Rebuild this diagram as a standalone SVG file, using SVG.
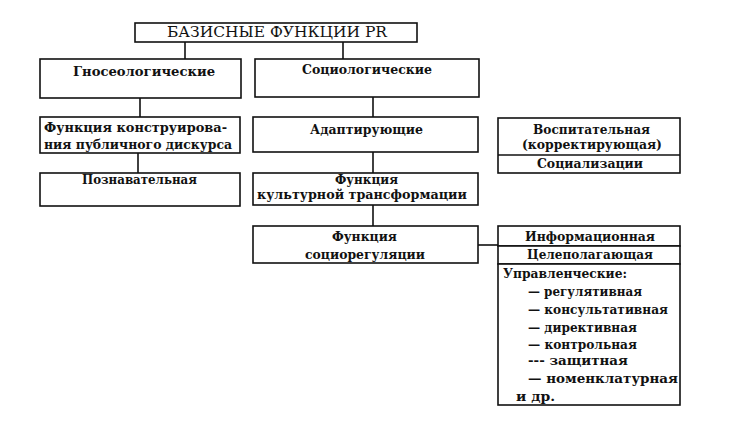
<svg xmlns="http://www.w3.org/2000/svg" width="732" height="422" viewBox="0 0 732 422">
<style>
.b{fill:#fff;stroke:#111;stroke-width:1.6}
.l{stroke:#111;stroke-width:1.6;fill:none}
text{font-family:"DejaVu Serif","Liberation Serif",serif;font-weight:bold;font-size:13.5px;fill:#111}
.t{font-weight:normal;font-size:14px}
.s{font-size:12.5px}
</style>
<rect width="732" height="422" fill="#fff"/>
<g id="connectors">
<line class="l" x1="185" y1="42" x2="185" y2="59"/>
<line class="l" x1="343" y1="42" x2="343" y2="59"/>
<line class="l" x1="140" y1="98" x2="140" y2="117"/>
<line class="l" x1="138" y1="153" x2="138" y2="173"/>
<line class="l" x1="373" y1="97" x2="373" y2="117"/>
<line class="l" x1="373" y1="152" x2="373" y2="173"/>
<line class="l" x1="373" y1="205" x2="373" y2="226"/>
<line class="l" x1="478" y1="245" x2="498" y2="245"/>
</g>
<g id="title">
<rect class="b" x="135" y="23" width="282" height="19"/>
<text class="t" x="167" y="37" textLength="220" lengthAdjust="spacingAndGlyphs">БАЗИСНЫЕ ФУНКЦИИ PR</text>
</g>
<g id="gnoseo">
<rect class="b" x="40" y="59" width="201" height="39"/>
<text x="73" y="76" textLength="142" lengthAdjust="spacingAndGlyphs">Гносеологические</text>
</g>
<g id="socio">
<rect class="b" x="255" y="59" width="224" height="38"/>
<text x="302" y="74" textLength="130" lengthAdjust="spacingAndGlyphs">Социологические</text>
</g>
<g id="konstr">
<rect class="b" x="40" y="117" width="200" height="36"/>
<text x="44" y="132" textLength="183" lengthAdjust="spacingAndGlyphs">Функция конструирова-</text>
<text x="44" y="149" textLength="188" lengthAdjust="spacingAndGlyphs">ния публичного дискурса</text>
</g>
<g id="poznav">
<rect class="b" x="40" y="173" width="200" height="33"/>
<text x="82" y="184" textLength="115" lengthAdjust="spacingAndGlyphs">Познавательная</text>
</g>
<g id="adapt">
<rect class="b" x="253" y="117" width="225" height="35"/>
<text x="310" y="134" textLength="113" lengthAdjust="spacingAndGlyphs">Адаптирующие</text>
</g>
<g id="kultur">
<rect class="b" x="253" y="173" width="225" height="32"/>
<text class="s" x="335" y="184" textLength="63" lengthAdjust="spacingAndGlyphs">Функция</text>
<text class="s" x="257" y="199" textLength="210" lengthAdjust="spacingAndGlyphs">культурной трансформации</text>
</g>
<g id="socioreg">
<rect class="b" x="253" y="226" width="225" height="37"/>
<text x="332" y="241" textLength="65" lengthAdjust="spacingAndGlyphs">Функция</text>
<text x="305" y="259" textLength="120" lengthAdjust="spacingAndGlyphs">социорегуляции</text>
</g>
<g id="vospit">
<rect class="b" x="498" y="118" width="182" height="55"/>
<line class="l" x1="498" y1="155" x2="680" y2="155"/>
<text x="533" y="134" textLength="117" lengthAdjust="spacingAndGlyphs">Воспитательная</text>
<text x="522" y="149" textLength="140" lengthAdjust="spacingAndGlyphs">(корректирующая)</text>
<text x="537" y="168" textLength="106" lengthAdjust="spacingAndGlyphs">Социализации</text>
</g>
<g id="inform">
<rect class="b" x="498" y="226" width="182" height="20"/>
<text x="525" y="241" textLength="130" lengthAdjust="spacingAndGlyphs">Информационная</text>
</g>
<g id="celepol">
<rect class="b" x="498" y="246" width="182" height="18"/>
<text x="527" y="259" textLength="126" lengthAdjust="spacingAndGlyphs">Целеполагающая</text>
</g>
<g id="upravl">
<rect class="b" x="498" y="264" width="182" height="141"/>
<text x="503" y="278" textLength="124" lengthAdjust="spacingAndGlyphs">Управленческие:</text>
<text x="528" y="296" textLength="114" lengthAdjust="spacingAndGlyphs">— регулятивная</text>
<text x="528" y="314" textLength="140" lengthAdjust="spacingAndGlyphs">— консультативная</text>
<text x="528" y="332" textLength="109" lengthAdjust="spacingAndGlyphs">— директивная</text>
<text x="528" y="349" textLength="109" lengthAdjust="spacingAndGlyphs">— контрольная</text>
<text x="528" y="365" textLength="100" lengthAdjust="spacingAndGlyphs">--- защитная</text>
<text x="528" y="383" textLength="150" lengthAdjust="spacingAndGlyphs">— номенклатурная</text>
<text x="516" y="401" textLength="39" lengthAdjust="spacingAndGlyphs">и др.</text>
</g>
</svg>
